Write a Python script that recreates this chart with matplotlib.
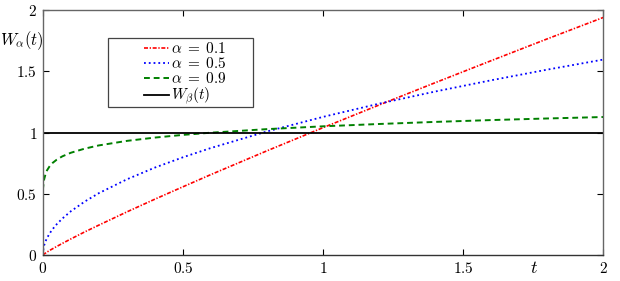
import numpy as np
import matplotlib.pyplot as plt
from matplotlib.patches import Rectangle

plt.rcParams['mathtext.fontset'] = 'cm'
plt.rcParams['font.family'] = 'serif'
plt.rcParams['font.serif'] = ['DejaVu Serif']

# values
t = [0, 0.0025, 0.005, 0.01, 0.015, 0.025, 0.035, 0.05, 0.07, 0.1, 0.15, 0.2,
     0.3, 0.4, 0.5, 0.6, 0.8, 1.0, 1.2, 1.4, 1.6, 1.8, 2.0]
w_01 = [0, 0.005, 0.009, 0.016, 0.024, 0.038, 0.051, 0.070, 0.095, 0.131, 0.189, 0.244,
        0.352, 0.456, 0.557, 0.657, 0.851, 1.040, 1.225, 1.407, 1.587, 1.765, 1.940]
w_05 = [0, 0.056, 0.080, 0.113, 0.138, 0.178, 0.211, 0.252, 0.298, 0.357, 0.437, 0.505,
        0.618, 0.714, 0.798, 0.874, 1.009, 1.128, 1.236, 1.335, 1.427, 1.514, 1.596]
w_09 = [0.53, 0.578, 0.619, 0.663, 0.691, 0.727, 0.752, 0.779, 0.806, 0.835, 0.869, 0.895,
        0.932, 0.959, 0.981, 0.999, 1.028, 1.051, 1.070, 1.087, 1.102, 1.115, 1.127]
w_beta = 1.0

xticks = [0, 0.5, 1, 1.5, 2]
yticks = [0, 0.5, 1, 1.5, 2]

fig = plt.figure(figsize=(6.2, 2.81), dpi=100)
ax = fig.add_axes([0.069, 0.0925, 0.904, 0.8715])

ax.plot(t, w_01, color='red', lw=1.2, dashes=(2.4, 1.0, 0.8, 1.0), label=r'$\alpha\;=\;0.1$')
ax.plot(t, w_05, color='blue', ls=':', lw=1.3, label=r'$\alpha\;=\;0.5$')
ax.plot(t, w_09, color='green', lw=1.4, dashes=(3, 2), label=r'$\alpha\;=\;0.9$')
ax.plot([0, 2], [w_beta, w_beta], color='black', lw=1.3, label=r'$W_{\beta}(t)$')

ax.set_xlim(0, 2)
ax.set_ylim(0, 2)
ax.set_xticks(xticks)
ax.set_xticklabels(['$%g$' % v for v in xticks], fontsize=11)
ax.set_yticks(yticks)
ax.set_yticklabels(['$%g$' % v for v in yticks], fontsize=11)
ax.tick_params(direction='in', top=True, right=True, length=4, width=0.8, pad=4)
for s in ax.spines.values():
    s.set_color('#666666')
    s.set_linewidth(1.0)
ax.spines['bottom'].set_color('#333333')

fig.text(0.035, 0.855, r'$W_{\alpha}(t)$', fontsize=12, ha='center', va='center')
fig.text(0.862, 0.045, r'$t$', fontsize=13, ha='center', va='center')

# legend box drawn separately (wide left margin like the reference)
ax.add_patch(Rectangle((0.116, 0.604), 0.259, 0.282, transform=ax.transAxes,
                       facecolor='white', edgecolor='#444444', lw=0.9, zorder=4))
leg = ax.legend(loc='upper left', bbox_to_anchor=(0.176, 0.885), fontsize=11,
                frameon=False, handlelength=1.6, handletextpad=0.15,
                borderpad=0.2, labelspacing=0.0, borderaxespad=0)
leg.set_zorder(5)

fig.savefig('out.png', dpi=100)
